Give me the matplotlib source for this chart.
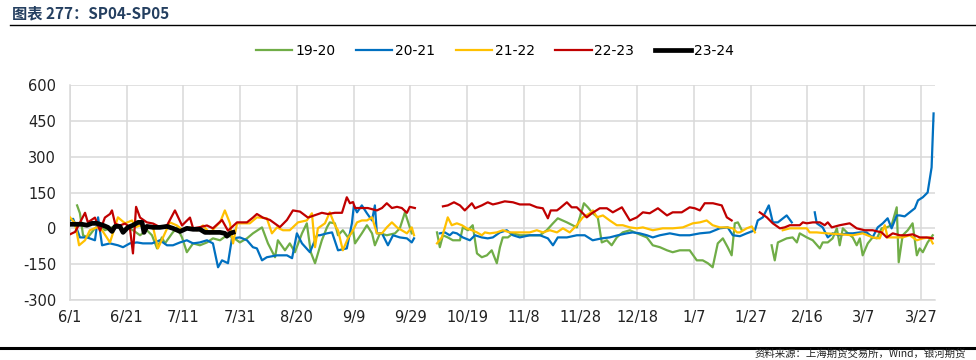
import numpy as np
import matplotlib
matplotlib.use("Agg")
import matplotlib.pyplot as plt
from matplotlib.lines import Line2D

plt.rcParams['font.family'] = ['DejaVu Sans', 'Noto Sans CJK SC']
plt.rcParams['axes.unicode_minus'] = False

title_text = "图表 277：SP04-SP05"
source_text = "资料来源：上海期货交易所，Wind，银河期货"
tick_labels = ["6/1", "6/21", "7/11", "7/31", "8/20", "9/9", "9/29", "10/19", "11/8",
               "11/28", "12/18", "1/7", "1/27", "2/16", "3/7", "3/27"]
tick_days = [0, 20, 40, 60, 80, 100, 120, 140, 160, 180, 200, 220, 240, 260, 280, 300]
series_names = ["19-20", "20-21", "21-22", "22-23", "23-24"]

# day offsets from 6/1 and values for each season
d_1920 = [2.5, 3.5, 4.6, 6.3, 8.8, 10.6, 12.3, 14.8, 16.6, 18.3, 20.4, 22.2, 24.7, 27.1, 28.9,
          30.7, 32.4, 33.5, 36, 37.7, 39.5, 41.2, 43.4, 45.8, 48.3, 50.4, 52.9, 55.3, 57.5, 59.9,
          62.4, 64.5, 67.7, 69.8, 72.3, 73.3, 75.8, 77.5, 79.3, 81.8, 83.5, 84.9, 86.4, 88.1,
          88.8, 90.6, 91.6, 93.4, 94.5, 96.2, 98, 99.8, 100.5, 102.9, 104.7, 106.5, 107.5, 109.3,
          111.7, 114.6, 116.3, 118.1, 119.8, 120.5,
          129.4, 130.4, 131.5, 133.2, 135, 137.5, 138.5, 140.3, 142, 143.5, 145.2, 147, 148.7,
          150.5, 151.6, 152.6, 154.4, 156.2, 158.6, 162.1, 165.7, 168.1, 170.3, 172, 175.2,
          178.7, 180.5, 181.2, 182.6, 184.3, 186.1, 187.5, 189.3, 191, 192.8, 194.9, 197.4,
          199.9, 203.4, 205.5, 208, 210.5, 212.5, 215, 218.5, 221, 223.1, 224.9, 226.6, 228.4,
          230.2, 231.9, 233.3, 234.4, 235.5, 236.9,
          247.4, 248.5, 249.6, 252.7, 254.8, 256.3, 257.3, 259.8, 261.9, 264.4, 265.4, 267.2,
          268.9, 270.4, 271.4, 272.5, 274.3, 276, 277.4, 278.5, 279.5, 281.3, 283, 284.5, 286.2,
          288, 289.7, 291.5, 292.2, 293.6, 295.4, 297.1, 298.6, 299.6, 300.7, 302.4, 304.2]
v_1920 = [96, 63, -29, -38, 0, 13, -8, 4, 13, -8, 4, -8, -29, -8, -29,
          -84, -38, -63, -21, 4, -38, -100, -63, -71, -59, -42, -50, -29, -38, -59,
          -42, -21, 4, -63, -121, -50, -92, -63, -100, -21, 21, -100, -146, -79,
          -50, 4, 25, 21, -29, -8, -38, -8, -63, -21, 13, -21, -71, -21,
          -29, -21, 0, 67, 4, -21,
          -17, -79, -29, -38, -50, -50, 4, -8, 13, -105, -121, -113, -92,
          -146, -79, -38, -38, -21, -29, -29, -29, -8, 21, 42, 25,
          4, 75, 105, 88, 63, 46, -59, -50, -71, -38, -17, -8,
          -21, -38, -71, -79, -92, -100, -92, -92, -134, -134, -146, -163, -63,
          -42, -79, -113, 21, 25, -8,
          -71, -134, -59, -42, -38, -59, -21, -38, -50, -84, -59, -59,
          -42, 0, -71, 0, -21, -38, -71, -42, -113, -63, -38, -42, 0,
          4, 13, 88, -142, -29, -8, 21, -113, -84, -100, -59, -29]

d_2021 = [0, 1.1, 3.5, 6, 8.8, 9.9, 11.3, 14.1, 16.9, 18.7, 21.1, 23.6, 25.7, 28.9, 31.7, 34.2,
          36.3, 38.8, 41.2, 43.4, 45.8, 48.3, 50.4, 52.2, 53.6, 55.7, 57.1, 59.9, 62.4, 64.5,
          65.9, 67.7, 69.4, 73, 76.5, 78.3, 80, 81.8, 84.6, 87.1, 88.1, 90.6, 92.4, 94.5, 97.6,
          99.4, 100.1, 101.2, 102.9, 104.7, 106.5, 107.5, 108.2, 110, 112.1, 113.9, 116.3, 118.8,
          120.5, 121.3,
          130.4, 132.2, 133.9, 135, 136.4, 138.5, 141, 142.8, 145.2, 147.3, 149.1, 151.6, 154,
          156.2, 158.6, 162.1, 165.7, 168.5, 170.3, 172, 175.2, 178.7, 181.5, 184.3, 187.5,
          190.3, 193.2, 196.3, 198.4, 200.9, 203.4, 205.5, 208, 211.5, 215, 218.5, 222.1, 225.6,
          229.1, 231.9, 233.7, 236.2, 238.6, 241.5, 242.5, 244.3, 246.4, 247.8, 249.6, 252.7,
          254.5,
          262.6, 263.3, 265.4, 267.2, 268.9, 271.4, 273.9, 276, 278.5, 280.9, 283, 284.8, 286.6,
          288.3, 289.7, 291.5, 292.6, 294.3, 296.1, 297.9, 299, 300.7, 302.4, 303.8, 304.5]
v_2021 = [33, 40, -38, -38, -50, 46, -71, -63, -71, -79, -63, -59, -63, -63, -50, -71,
          -71, -59, -50, -63, -59, -50, -63, -163, -134, -146, -42, -38, -50, -79,
          -84, -134, -121, -113, -113, -125, -21, -63, -100, -29, -29, -21, -17, -92, -84,
          21, 96, 67, 96, 63, 33, 96, -21, -21, -71, -29, -38, -42,
          -59, -42,
          -21, -17, -29, -17, -21, -38, -50, -29, -38, -42, -38, -17, -8,
          -29, -38, -29, -29, -42, -71, -38, -38, -29, -29, -50, -42,
          -38, -29, -21, -17, -21, -29, -38, -29, -21, -29, -29, -21, -17,
          0, 4, -29, -33, -21, -8, 33, 46, 96, 25, 25, 54,
          25,
          67, 21, 4, -38, -21, -29, -21, -21, -17, -17, -38, 4, 21,
          42, 0, 54, 54, 50, 67, 84, 117, 130, 150, 255, 481]

d_2122 = [0, 1.8, 3.2, 5.3, 7, 9.5, 11.3, 14.1, 16.9, 19.4, 21.9, 22.9, 24.7, 27.1, 29.3, 31,
          32.8, 35.2, 37.7, 39.8, 42.3, 44.8, 46.9, 49.3, 51.1, 52.9, 54.6, 56.4, 57.5, 58.9,
          61, 63.4, 65.9, 69.4, 71.2, 73, 75.1, 77.5, 80.4, 83.5, 85.3, 86.4, 87.4, 89.9, 91.6,
          93.4, 94.5, 96.2, 98, 99.8, 101.2, 102.9, 104.7, 106.5, 108.2, 110, 111.7, 113.5,
          115.3, 117, 118.8, 120.5, 121.3,
          129.4, 131.1, 132.2, 133.2, 134.6, 136.4, 138.2, 139.9, 141.7, 143.5, 145.2, 146.3,
          148, 150.5, 152.6, 155.1, 158.6, 162.1, 164.6, 166.7, 169.2, 171.7, 173.8, 176.2,
          178.7, 180.8, 183.3, 184.4, 185.8, 187.9, 190.3, 192.8, 194.9, 197.4, 199.9, 202,
          205.5, 209, 212.5, 216.1, 219.6, 222.1, 224.5, 226.6, 229.1, 231.9, 233.7, 235.2,
          236.2, 238.6, 240.4, 241.5,
          251.3, 253.8, 256.3, 259.8, 260.8, 263.3, 266.8, 271.4, 276, 279.5, 283, 285.5, 287.3,
          288.3, 291.5, 293.6, 296.1, 298.6, 300.7, 303.1, 304.2]
v_2122 = [46, 21, -71, -50, -8, 4, -8, -59, 46, 21, 33, 4, 12, 0, 4, -84,
          -38, 25, 12, -8, 4, -8, 12, -21, 4, 25, 75, 21, -63, 21,
          21, 21, 46, 42, -21, 4, -8, -8, 25, 33, 63, -79, 0, 21, 67,
          13, -8, -92, -42, -8, 25, 33, 33, 46, -21, -21, 4, 25,
          4, -8, -21, 4, -29,
          -63, -38, 4, 46, 13, 21, 13, 0, -8, -17, -29, -17,
          -21, -17, -8, -17, -17, -17, -8, -17, -8, -17, 0, -17,
          13, 46, 63, 75, 46, 54, 33, 13, 13, 4, 0, 4,
          -8, 0, 0, 4, 21, 25, 33, 13, 4, 4, 0, -17,
          -17, 0, 8, -17,
          -8, 0, 0, 0, -17, -17, -21, -25, -29, -21, -38, -42, 13,
          -38, -38, -38, -29, -50, -42, -38, -63]

d_2223 = [0, 1.8, 5.3, 6.3, 8.8, 10.6, 12.3, 14.1, 14.8, 15.9, 17.6, 19.4, 21.1, 22.2, 23.3,
          24.7, 27.1, 29.3, 31.7, 34.2, 37, 39.5, 42.3, 43.4, 45.8, 48.3, 50.4, 53.6, 55.7, 58.9,
          62.4, 64.5, 65.9, 68, 70.5, 74, 76.5, 78.6, 81.1, 83.9, 86.4, 88.8, 90.9, 93.4, 95.9,
          97.6, 98.7, 99.8, 100.5, 102.9, 105, 108.2, 110, 111.7, 113.5, 115.3, 117, 118.8,
          119.8, 121.6,
          131.5, 133.2, 135.4, 137.5, 139.2, 141.7, 142.8, 145.2, 147.3, 149.1, 150.9, 153.3,
          156.2, 158.6, 162.1, 164.6, 166.7, 168.5, 169.5, 171.7, 172.7, 175.2, 176.9, 178.7,
          180.5, 182.2, 184, 186.8, 189.3, 191.4, 194.6, 197.4, 199.9, 202, 204.4, 207.3, 210.5,
          212.5, 215.7, 218.5, 220.3, 222.1, 223.8, 226.7, 229.8, 231.6, 233.3,
          243.2, 245.7, 247.8, 250.3, 252, 253.8, 257.3, 258.4, 259.8, 261.9, 264.4, 266.1,
          267.2, 268.6, 271.4, 274.9, 277.4, 280.2, 283, 286.2, 288, 290.1, 292.6, 295, 297.1,
          299.6, 302.1, 304.2]
v_2223 = [-25, -15, 65, 25, 45, -10, 45, 60, 75, 20, 12, 20, 5, -105, 90,
          45, 25, 20, 5, 12, 75, 12, 45, 0, 5, 12, 0, 35, -10, 25,
          25, 45, 60, 45, 35, 5, 35, 75, 70, 45, 55, 65, 60, 65, 65,
          130, 105, 110, 85, 85, 85, 75, 85, 105, 85, 90, 85, 65,
          90, 85,
          92, 96, 109, 96, 75, 105, 84, 96, 109, 100, 105, 113,
          109, 100, 100, 88, 84, 42, 75, 75, 84, 109, 88, 88,
          67, 46, 63, 84, 84, 67, 88, 33, 46, 67, 63, 84, 54,
          67, 67, 88, 84, 75, 105, 105, 96, 46, 33,
          67, 46, 21, 0, 4, 13, 13, 25, 21, 25, 25, 13,
          25, 4, 13, 21, 0, -8, -8, -17, -38, -21, -29, -29, -25,
          -38, -38, -42]

d_2324 = [0, 1.8, 4.2, 6, 7.8, 9.5, 11.6, 13.4, 14.8, 15.9, 17.6, 18.7, 20.4, 22.2, 24, 25.4,
          26.1, 27.1, 29.3, 31.7, 34.2, 36.3, 38.8, 41.2, 43.4, 45.8, 47.6, 50.4, 52.9, 54.6,
          55.3, 56.4, 57.5]
v_2324 = [17, 17, 17, 13, 21, 21, 13, 4, -13, 8, 8, -17, 4, 13, 25, 25,
          -17, 8, 4, 4, 8, 0, -13, 0, -4, -4, -17, -17, -17, -21,
          -33, -21, -17]

colors = ["#70AD47", "#0070C0", "#FFC000", "#C00000", "#000000"]
widths = [1.6, 1.6, 1.6, 1.6, 3.4]
all_days = [d_1920, d_2021, d_2122, d_2223, d_2324]
all_vals = [v_1920, v_2021, v_2122, v_2223, v_2324]


def with_gaps(d, v, thr=6.5):
    d = np.asarray(d, float)
    v = np.asarray(v, float)
    xs, ys = [d[0]], [v[0]]
    for i in range(1, len(d)):
        if d[i] - d[i - 1] > thr:
            xs.append(np.nan)
            ys.append(np.nan)
        xs.append(d[i])
        ys.append(v[i])
    return np.array(xs), np.array(ys)


fig = plt.figure(figsize=(9.76, 3.6), dpi=100)
ax = fig.add_axes([70 / 976, 1 - 300 / 360, (935 - 70) / 976, (300 - 85) / 360])

for d, v, c, w, n in zip(all_days, all_vals, colors, widths, series_names):
    x, y = with_gaps(d, v)
    ax.plot(x, y, color=c, lw=w, label=n, solid_joinstyle='round', zorder=3 if n != "23-24" else 5)

ax.set_xlim(0, 305)
ax.set_ylim(-300, 600)
ax.set_yticks([-300, -150, 0, 150, 300, 450, 600])
ax.set_xticks(tick_days)
ax.set_xticklabels(tick_labels)
ax.tick_params(axis='both', length=0, labelsize=10.5, colors='#222222')
ax.tick_params(axis='x', pad=7)
ax.tick_params(axis='y', pad=10)
ax.grid(True, color='#D9D9D9', lw=1.1)
ax.set_axisbelow(True)
for s in ['top', 'right']:
    ax.spines[s].set_visible(False)
for s in ['left', 'bottom']:
    ax.spines[s].set_color('#D9D9D9')
    ax.spines[s].set_linewidth(1.1)

handles = [Line2D([0], [0], color=c, lw=w) for c, w in zip(colors, widths)]
fig.legend(handles, series_names, loc='center', bbox_to_anchor=(495 / 976, 1 - 51 / 360),
           ncol=5, frameon=False, fontsize=10, handlelength=2.6, handletextpad=0.2,
           columnspacing=1.5)

fig.text(12 / 976, 1 - 13 / 360, title_text, fontsize=11, fontweight='bold', color='#243F60',
         family=['Noto Sans CJK SC', 'DejaVu Sans'], va='center', ha='left')
fig.add_artist(Line2D([10 / 976, 1.0], [1 - 25 / 360, 1 - 25 / 360], color='black', lw=1.0))
fig.add_artist(Line2D([0.0, 1.0], [1 - 348 / 360, 1 - 348 / 360], color='black', lw=2.2))
fig.text(966 / 976, 1 - 359 / 360, source_text, fontsize=7.5, color='#222222',
         family=['Noto Sans CJK SC', 'DejaVu Sans'], va='bottom', ha='right')

fig.savefig("out.png", dpi=100)
